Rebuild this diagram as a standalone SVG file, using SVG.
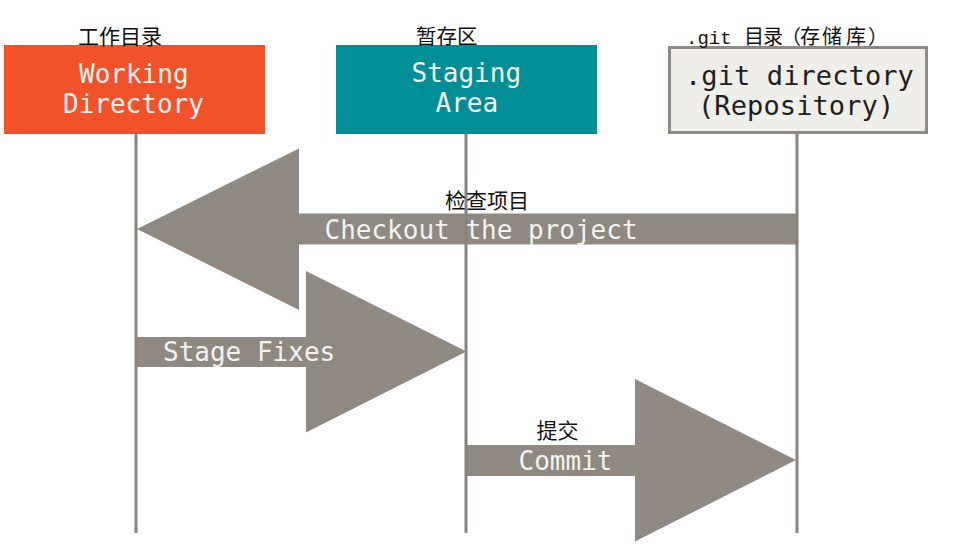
<svg xmlns="http://www.w3.org/2000/svg" width="954" height="560" viewBox="0 0 954 560">
  <style>
    .mono { font-family: "DejaVu Sans Mono", "Liberation Mono", monospace; font-size: 26px; fill: #f4f2ee; }
    .monodark { font-family: "DejaVu Sans Mono", "Liberation Mono", monospace; font-size: 27px; fill: #1e1e1e; letter-spacing: 0.1px; }
    .cjk { font-family: "Noto Sans CJK SC", "Noto Sans", sans-serif; font-size: 21px; fill: #111111; }
    .arrow { fill: #8f8981; }
    .life { stroke: #88837d; stroke-width: 3; fill: none; }
  </style>
  <rect width="954" height="560" fill="#ffffff"/>

  <g id="connectors">
    <path id="checkout" class="arrow" d="M137,229 L299,148.5 L299,213.5 L797,213.5 L797,244.5 L299,244.5 L299,310 Z"/>
    <path id="stage" class="arrow" d="M137,337 L306,337 L306,271 L466.5,351.5 L306,432.5 L306,367 L137,367 Z"/>
    <path id="commit" class="arrow" d="M466,445 L635,445 L635,379 L796,460 L635,541.5 L635,476 L466,476 Z"/>
    <line class="life" x1="136" y1="134" x2="136" y2="533"/>
    <line class="life" x1="466" y1="134" x2="466" y2="533"/>
    <line class="life" x1="797" y1="134" x2="797" y2="533"/>
    <text class="cjk" x="445" y="208">检查项目</text>
    <text class="mono" x="324.5" y="238.5">Checkout the project</text>
    <text class="mono" x="163" y="361">Stage Fixes</text>
    <text class="cjk" x="536.5" y="438">提交</text>
    <text class="mono" x="518.5" y="470">Commit</text>
  </g>

  <g id="working-directory">
    <rect x="4" y="45" width="261" height="89" fill="#f25129"/>
    <text class="mono" x="79" y="83">Working</text>
    <text class="mono" x="63" y="113">Directory</text>
    <text class="cjk" x="78" y="43.5">工作目录</text>
  </g>

  <g id="staging-area">
    <rect x="336" y="45" width="261" height="89" fill="#008f96"/>
    <text class="mono" x="411.5" y="82">Staging</text>
    <text class="mono" x="435.5" y="112">Area</text>
    <text class="cjk" x="416" y="43.5" style="font-size:20.5px">暂存区</text>
  </g>

  <g id="git-directory">
    <rect x="669.5" y="47.5" width="257" height="85" fill="#efeee9" stroke="#8f8a84" stroke-width="3"/>
    <text class="monodark" x="685" y="84.5">.git directory</text>
    <text class="monodark" x="698" y="114.5">(Repository)</text>
    <text class="cjk" x="686" y="44" style="font-size:20px"><tspan style="font-family:'Liberation Mono', monospace; font-size:19px">.git </tspan><tspan x="744 763 781 800 822 846 868">目录（存储库）</tspan></text>
  </g>
</svg>
